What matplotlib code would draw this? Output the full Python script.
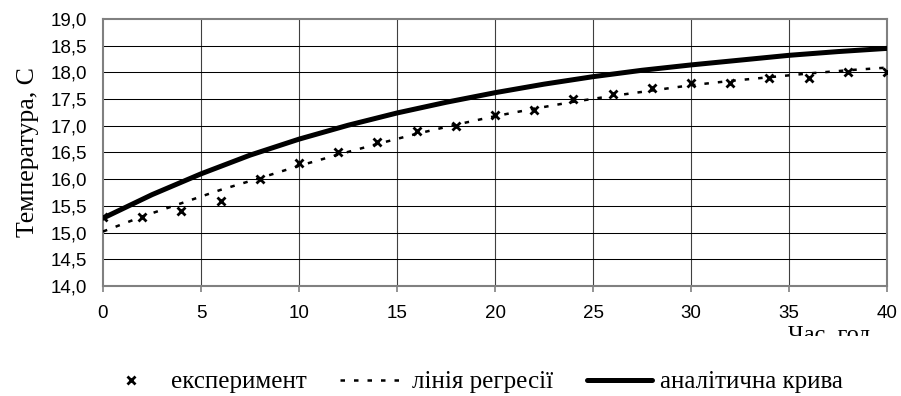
import matplotlib.pyplot as plt
import matplotlib
from matplotlib.patches import Rectangle

matplotlib.rcParams['font.family'] = 'Liberation Sans'

# experiment points
t_exp = [0, 2, 4, 6, 8, 10, 12, 14, 16, 18, 20, 22, 24, 26, 28, 30, 32, 34, 36, 38, 40]
temp_exp = [15.3, 15.3, 15.4, 15.6, 16.0, 16.3, 16.5, 16.7, 16.9, 17.0, 17.2,
            17.3, 17.5, 17.6, 17.7, 17.8, 17.8, 17.9, 17.9, 18.0, 18.0]

# regression line
temp_reg = [15.02, 15.3, 15.55, 15.8, 16.02, 16.25, 16.46, 16.66, 16.85, 17.02, 17.18,
            17.32, 17.45, 17.56, 17.66, 17.76, 17.84, 17.91, 17.98, 18.04, 18.09]

# analytic curve
t_an = [0, 2.5, 5, 7.5, 10, 12.5, 15, 17.5, 20, 22.5, 25, 27.5, 30, 32.5, 35, 37.5, 40]
temp_an = [15.27, 15.71, 16.10, 16.45, 16.75, 17.01, 17.24, 17.44, 17.62, 17.78,
           17.92, 18.04, 18.14, 18.23, 18.32, 18.39, 18.45]

x_ticks = [0, 5, 10, 15, 20, 25, 30, 35, 40]
y_ticks = [14.0, 14.5, 15.0, 15.5, 16.0, 16.5, 17.0, 17.5, 18.0, 18.5, 19.0]

serif = "Liberation Serif"

fig = plt.figure(figsize=(9.01, 3.96), dpi=100)
ax = fig.add_axes([0.1143, 0.2778, 0.8702, 0.6742])

ax.plot(t_exp, temp_reg, color="black", lw=1.8, dashes=(1.8, 3.6), label="лінія регресії", zorder=3)
ax.plot(t_an, temp_an, color="black", lw=3.6, solid_capstyle="round", label="аналітична крива", zorder=4)
ax.plot(t_exp, temp_exp, ls="none", marker="x", color="black", ms=6, mew=2, label="експеримент", zorder=5)

ax.set_xlim(0, 40)
ax.set_ylim(14, 19)
ax.set_xticks(x_ticks)
ax.set_yticks(y_ticks)
ax.set_yticklabels([f"{v:.1f}".replace(".", ",") for v in y_ticks])
ax.tick_params(axis="x", direction="out", length=4, width=1.2, color="#808080", labelsize=13.5, pad=10)
ax.tick_params(axis="y", length=0, labelsize=13.5, pad=11.5)

for v in x_ticks[1:-1]:
    ax.axvline(v, color="#404040", lw=0.8, zorder=1)
for v in y_ticks[1:-1]:
    ax.axhline(v, color="black", lw=0.75, zorder=1)
for s in ax.spines.values():
    s.set_color("#808080")
    s.set_linewidth(1.5)

ax.set_ylabel("Температура, С", family=serif, fontsize=18.5)
ax.yaxis.set_label_coords(-0.082, 0.5)

# x label, partly cut at the bottom as in the original
xl = fig.text(0.9234, 1 - 341 / 396, "Час, год.", family=serif, fontsize=17.5, ha="center", va="baseline")
clip = Rectangle((0, 60 / 396), 1, 1, transform=fig.transFigure, visible=False)
fig.add_artist(clip)
xl.set_clip_path(clip)

h, l = ax.get_legend_handles_labels()
order = [2, 0, 1]
fig.legend([h[i] for i in order], [l[i] for i in order], loc="center left", ncol=3,
           bbox_to_anchor=(98 / 901, 1 - 382 / 396), frameon=False, borderpad=0, borderaxespad=0,
           handlelength=2.6, handletextpad=0.3, columnspacing=1.35,
           prop={"family": serif, "size": 18})

fig.savefig("out.png", dpi=100)
